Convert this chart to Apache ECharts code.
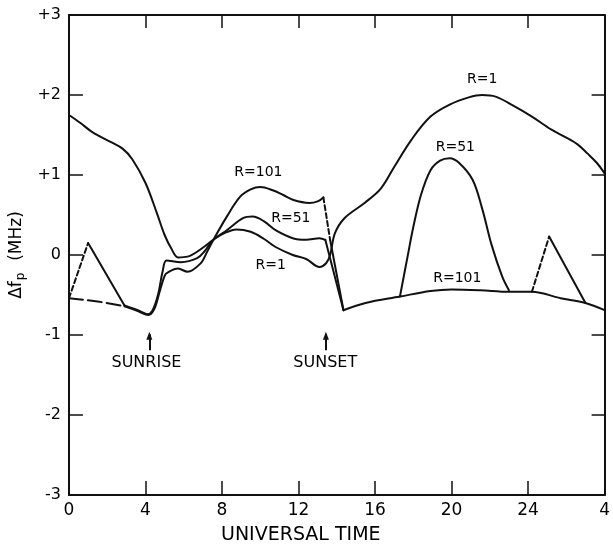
<!DOCTYPE html>
<html>
<head>
<meta charset="utf-8">
<script src="https://cdn.jsdelivr.net/npm/echarts@6/dist/echarts.min.js"></script>
<style>
html,body{margin:0;padding:0;background:#fff;}
#c{width:613px;height:544px;}
</style>
</head>
<body>
<div id="c"></div>
<script>
// ---- tick labels ----
const xTickLabels = ['0','4','8','12','16','20','24','4'];
const yTickLabels = ['-3','-2','-1','0','+1','+2','+3'];

// ---- R = 1 curve (hours UT, delta fp MHz) ----
const r1 = [[0,1.75],[0.6,1.65],[1.2,1.54],[2.2,1.41],[2.8,1.33],[3.3,1.2],[4.0,0.9],[4.6,0.52],[5.0,0.25],[5.35,0.08],[5.7,-0.03],[6.2,-0.02],[7.05,0.1],[7.6,0.2],[8.1,0.27],[8.75,0.32],[9.5,0.29],[10.2,0.2],[10.8,0.1],[11.7,0.0],[12.4,-0.05],[13.1,-0.15],[13.45,-0.1],[13.65,0.0],[13.9,0.27],[14.4,0.46],[15.45,0.65],[16.3,0.83],[17.0,1.1],[17.9,1.44],[18.9,1.73],[19.9,1.88],[20.9,1.97],[21.6,2.0],[22.3,1.98],[23.2,1.87],[24.2,1.73],[25.2,1.57],[25.9,1.48],[26.6,1.38],[27.1,1.27],[27.6,1.15],[28,1.02]];

// ---- R = 101 curve segments ----
const r101Dash1 = [[0,-0.54],[1.5,-0.58],[2.9,-0.64]];
const r101Day = [[2.9,-0.64],[3.6,-0.7],[4.15,-0.75],[4.45,-0.68],[4.75,-0.45],[5.0,-0.26],[5.15,-0.22],[5.7,-0.17],[6.2,-0.21],[6.9,-0.1],[7.2,0.03],[7.55,0.19],[8.25,0.48],[8.95,0.73],[9.5,0.82],[10.0,0.85],[10.65,0.81],[11.2,0.75],[11.7,0.69],[12.55,0.65],[13.0,0.67],[13.3,0.72]];
const r101Dash2 = [[13.3,0.72],[13.65,0.19]];
const r101Drop = [[13.65,0.19],[14.35,-0.69]];
const r101Night = [[14.35,-0.69],[15.5,-0.6],[17.3,-0.52],[18.9,-0.45],[20.0,-0.43],[21.5,-0.44],[23.0,-0.46],[24.2,-0.46],[25.7,-0.54],[27.0,-0.6],[28,-0.69]];

// ---- R = 51 curve segments ----
const r51Dash1 = [[0,-0.54],[1.0,0.15]];
const r51Early = [[1.0,0.15],[2.9,-0.63]];
const r51Day = [[2.9,-0.63],[3.6,-0.69],[4.1,-0.74],[4.35,-0.7],[4.65,-0.5],[4.9,-0.2],[5.1,-0.07],[5.85,-0.09],[6.7,-0.04],[7.1,0.05],[7.55,0.19],[8.25,0.31],[9.1,0.46],[9.6,0.48],[10.2,0.42],[10.8,0.31],[11.7,0.21],[12.4,0.19],[13.1,0.21],[13.4,0.19]];
const r51Drop = [[13.4,0.19],[14.35,-0.69]];
const r51Peak = [[17.3,-0.52],[17.7,-0.02],[18.0,0.35],[18.4,0.75],[18.9,1.06],[19.4,1.18],[19.9,1.21],[20.4,1.15],[21.1,0.94],[21.6,0.58],[22.1,0.12],[22.65,-0.27],[23.0,-0.44]];
const r51Dash2 = [[24.2,-0.46],[25.1,0.23]];
const r51Late = [[25.1,0.23],[27.0,-0.6]];

// ---- annotations ----
const curveLabels = [[9.9,1.03,'R=101'],[11.6,0.46,'R=51'],[10.55,-0.13,'R=1'],[21.6,2.19,'R=1'],[20.2,1.35,'R=51'],[20.3,-0.29,'R=101']];
const eventLabels = [[4.05,-1.35,'SUNRISE'],[13.4,-1.35,'SUNSET']];
const eventTimes = [4.2, 13.43];

const INK = '#000';
const FONT = 'DejaVu Sans';

function seg(data, dash, smooth) {
  return {
    type: 'line', data: data, symbol: 'none', smooth: smooth, silent: true,
    lineStyle: { color: '#111', width: 2, type: dash || 'solid', cap: 'round', join: 'round' }
  };
}

const labelData = curveLabels.map(d => ({ value: d, label: { fontSize: 14, color: INK } }))
  .concat(eventLabels.map(d => ({ value: d, label: { fontSize: 16, color: INK } })));

const r1Series = seg(r1, null, 0.35);
r1Series.markLine = {
  silent: true, symbol: 'none',
  lineStyle: { color: '#111', width: 2, type: 'solid' },
  label: { show: false },
  data: eventTimes.map(t => [{ coord: [t, -1.19] }, { coord: [t, -0.99] }])
};

const series = [
  r1Series,
  seg(r101Dash1, [14, 5], false),
  seg(r101Day, null, 0.35),
  seg(r101Dash2, [5, 3], false),
  seg(r101Drop, null, false),
  seg(r101Night, null, 0.35),
  seg(r51Dash1, [5, 3], false),
  seg(r51Early, null, false),
  seg(r51Day, null, 0.35),
  seg(r51Drop, null, false),
  seg(r51Peak, null, 0.35),
  seg(r51Dash2, [5, 3], false),
  seg(r51Late, null, false),
  {
    type: 'scatter', symbol: 'triangle', symbolSize: [6, 8], silent: true,
    itemStyle: { color: '#111', opacity: 1 },
    data: eventTimes.map(t => [t, -1.01])
  },
  {
    type: 'scatter', symbolSize: 0, silent: true,
    itemStyle: { opacity: 1 },
    data: labelData,
    label: {
      show: true, position: 'inside', color: INK, fontFamily: FONT, opacity: 1,
      formatter: p => p.value[2]
    }
  }
];

const axisLineStyle = { show: true, onZero: false, lineStyle: { color: '#111', width: 2 } };

const chart = echarts.init(document.getElementById('c'), null, { renderer: 'canvas' });
chart.setOption({
  animation: false,
  backgroundColor: '#fff',
  title: {
    text: 'UNIVERSAL TIME', left: 216, top: 521,
    textStyle: { color: INK, fontFamily: FONT, fontSize: 19, fontWeight: 'normal' }
  },
  grid: { left: 63, right: 6, top: 15, bottom: 49, containLabel: false },
  xAxis: [
    {
      type: 'value', min: 0, max: 28, interval: 4, position: 'bottom',
      axisLine: axisLineStyle,
      axisTick: { show: true, inside: true, length: 14, lineStyle: { color: '#111', width: 1.5 } },
      splitLine: { show: false },
      axisLabel: {
        show: true, color: INK, fontFamily: FONT, fontSize: 17, margin: 7,
        formatter: v => xTickLabels[Math.round(v / 4)]
      }
    },
    {
      type: 'value', min: 0, max: 28, interval: 4, position: 'top',
      axisLine: axisLineStyle,
      axisTick: { show: true, inside: true, length: 13, lineStyle: { color: '#111', width: 1.5 } },
      splitLine: { show: false }, axisLabel: { show: false }
    }
  ],
  yAxis: [
    {
      type: 'value', min: -3, max: 3, interval: 1, position: 'left',
      axisLine: axisLineStyle,
      axisTick: { show: true, inside: true, length: 14, lineStyle: { color: '#111', width: 1.5 } },
      splitLine: { show: false },
      axisLabel: {
        show: true, color: INK, fontFamily: FONT, fontSize: 16, margin: 8,
        formatter: v => yTickLabels[Math.round(v + 3)]
      },
      name: '{a|Δf}{b|p}{a|  (MHz)}', nameLocation: 'middle', nameRotate: 90, nameGap: 38,
      nameTextStyle: {
        color: INK, fontFamily: FONT,
        rich: {
          a: { fontSize: 17, fontFamily: FONT, color: INK },
          b: { fontSize: 12, fontFamily: FONT, color: INK, padding: [8, 1, 0, 1] }
        }
      }
    },
    {
      type: 'value', min: -3, max: 3, interval: 1, position: 'right',
      axisLine: axisLineStyle,
      axisTick: { show: true, inside: true, length: 13, lineStyle: { color: '#111', width: 1.5 } },
      splitLine: { show: false }, axisLabel: { show: false }
    }
  ],
  series: series
});
</script>
</body>
</html>
